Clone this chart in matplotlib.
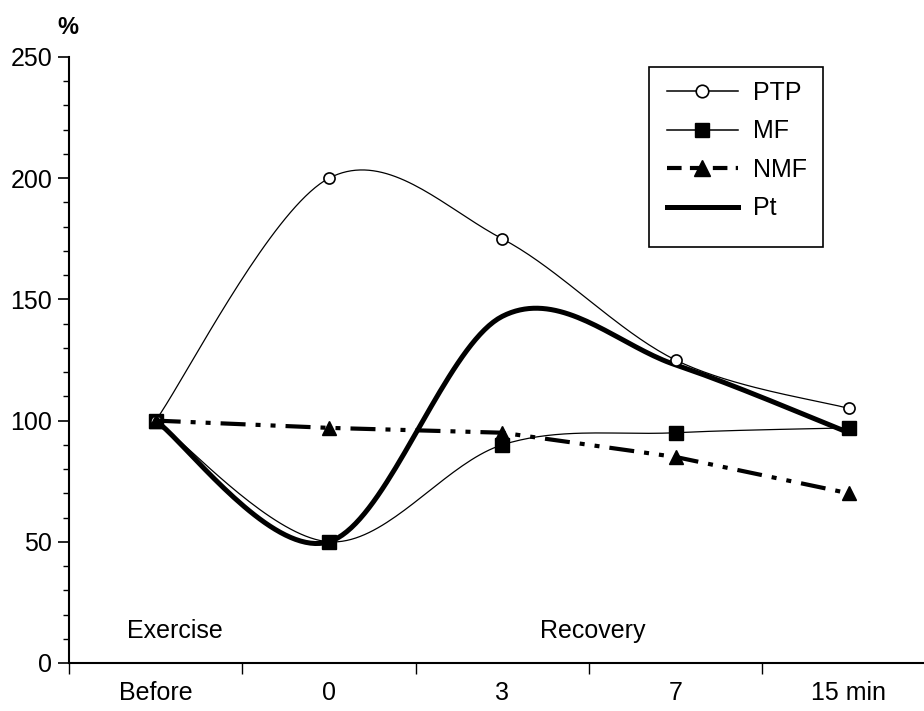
import numpy as np
import matplotlib.pyplot as plt
from matplotlib.lines import Line2D
from matplotlib.patches import Rectangle

plt.rcParams['font.family'] = ['Liberation Sans', 'DejaVu Sans']

categories = ["Before", "0", "3", "7", "15 min"]
ptp = [100, 200, 175, 125, 105]
mf = [100, 50, 90, 95, 97]
nmf = [100, 97, 95, 85, 70]
pt = [100, 50, 143, 123, 95]


def smooth(xs, ys, n=40):
  # Excel-style smoothed line: cubic Bezier through the points
  P = np.column_stack([xs, ys]).astype(float)
  m = len(P)
  out = [P[0]]
  for i in range(m - 1):
    p0 = P[max(i - 1, 0)]
    p1 = P[i]
    p2 = P[i + 1]
    p3 = P[min(i + 2, m - 1)]
    c1 = p1 + (p2 - p0) / 6
    c2 = p2 - (p3 - p1) / 6
    t = np.linspace(0, 1, n)[1:, None]
    seg = (1 - t)**3 * p1 + 3 * (1 - t)**2 * t * c1 + 3 * (1 - t) * t**2 * c2 + t**3 * p2
    out.extend(seg)
  out = np.array(out)
  return out[:, 0], out[:, 1]


fig = plt.figure(figsize=(9.24, 7.11), dpi=100)
ax = fig.add_axes([69/924, 48/711, 866.5/924, 606/711])

x = np.arange(len(categories))
nmf_dash = (0, (6, 2.4, 1.2, 2.4, 1.2, 2.4))

sx, sy = smooth(x, pt)
ax.plot(sx, sy, color='black', lw=3.6, solid_capstyle='round')
sx, sy = smooth(x, mf)
ax.plot(sx, sy, color='black', lw=0.9)
ax.plot(x, mf, ls='none', marker='s', ms=9.5, color='black')
sx, sy = smooth(x, ptp)
ax.plot(sx, sy, color='black', lw=0.9)
ax.plot(x, ptp, ls='none', marker='o', ms=8, mfc='white', mec='black', mew=1.2)
ax.plot(x, nmf, color='black', lw=3, ls=nmf_dash, marker='^', ms=10)

ax.set_xlim(-0.5, len(categories) - 0.5)
ax.set_ylim(0, 250)
ax.set_yticks(np.arange(0, 251, 50))
ax.set_yticks(np.arange(0, 251, 10), minor=True)
ax.set_xticks(np.arange(-0.5, len(categories), 1))
ax.set_xticklabels([])
ax.set_xticks(x, minor=True)
ax.set_xticklabels(categories, minor=True)

for s in ['top', 'right']:
  ax.spines[s].set_visible(False)
for s in ['left', 'bottom']:
  ax.spines[s].set_linewidth(1.5)

ax.tick_params(axis='y', which='major', length=8, width=1.2, labelsize=18, pad=4)
ax.tick_params(axis='y', which='minor', length=4, width=1)
ax.tick_params(axis='x', which='major', length=8, width=1)
ax.tick_params(axis='x', which='minor', length=0, labelsize=18, pad=13)

ax.text(0.11, 13, "Exercise", fontsize=18, ha='center', va='center')
ax.text(2.52, 13, "Recovery", fontsize=18, ha='center', va='center')
fig.text(68/924, 1 - 28/711, "%", fontsize=17, fontweight='bold', ha='center', va='center')

# legend box
fig.patches.append(Rectangle((649/924, 1 - 247/711), 174/924, 180/711,
                             transform=fig.transFigure, fill=False,
                             edgecolor='black', lw=1.2))

handles = [
  Line2D([], [], color='black', lw=1.1, marker='o', ms=9, mfc='white', mec='black', mew=1.2),
  Line2D([], [], color='black', lw=1.1, marker='s', ms=10),
  Line2D([], [], color='black', lw=3, ls=(0, (3.5, 2, 3.5, 2)), marker='^', ms=11),
  Line2D([], [], color='black', lw=3.6),
]
leg = ax.legend(handles, ["PTP", "MF", "NMF", "Pt"], loc='upper left',
                bbox_to_anchor=(653/924, 1 - 67/711),
                bbox_transform=fig.transFigure,
                fontsize=18, frameon=False,
                handlelength=2.85, handletextpad=0.6, labelspacing=0.58,
                borderpad=0.55, borderaxespad=0)

fig.savefig("out.png", dpi=100)
